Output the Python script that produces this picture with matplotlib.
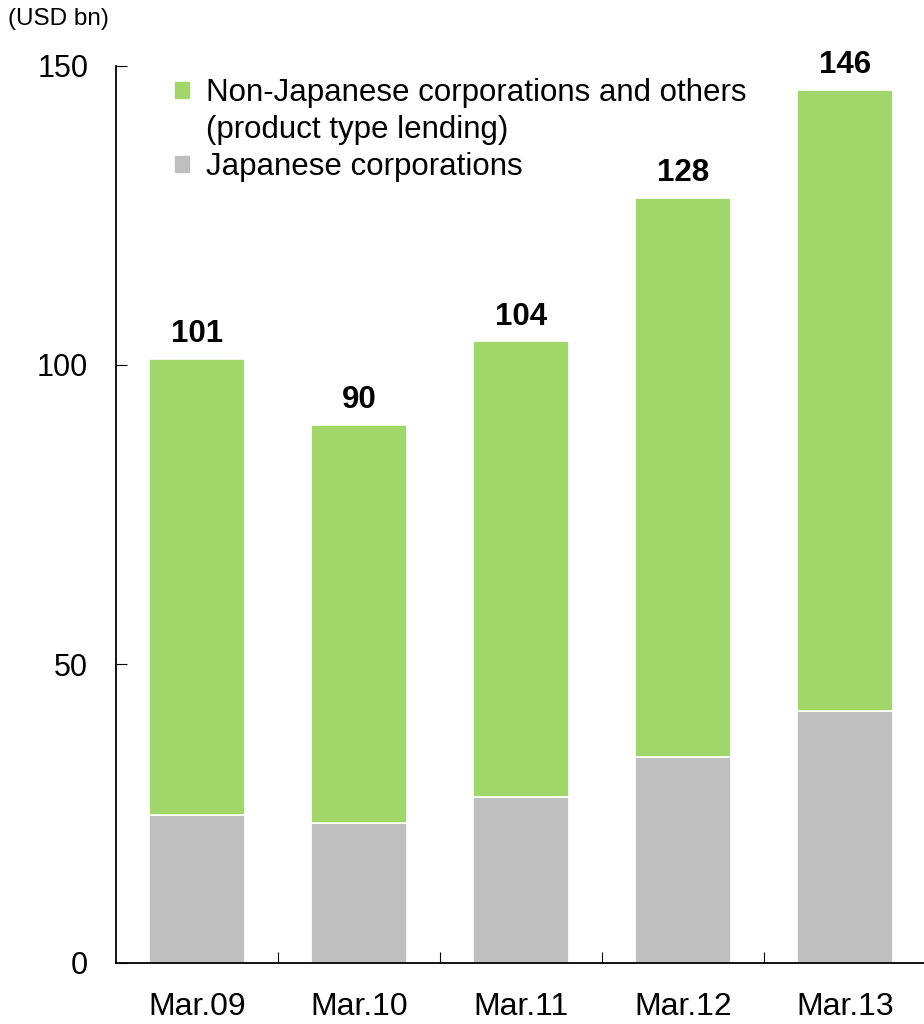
import matplotlib.pyplot as plt
from matplotlib.patches import Patch

plt.rcParams['font.family'] = ['Liberation Sans', 'DejaVu Sans']

# data (USD bn)
categories = ['Mar.09', 'Mar.10', 'Mar.11', 'Mar.12', 'Mar.13']
japanese = [24.7, 23.4, 27.8, 34.4, 42.1]
totals = [101, 90, 104, 128, 146]
non_japanese = [t - j for t, j in zip(totals, japanese)]

green = '#a0d66a'
gray = '#bfbfbf'

fig = plt.figure(figsize=(9.24, 10.24), dpi=100)
ax = fig.add_axes([116 / 924, 1 - 963 / 1024, 810 / 924, 897 / 1024])

x = range(len(categories))
ax.bar(x, japanese, width=0.59, color=gray, edgecolor='white', linewidth=1.2)
ax.bar(x, non_japanese, bottom=japanese, width=0.59, color=green,
       edgecolor='white', linewidth=1.2)

for i, t in enumerate(totals):
    ax.text(i, t + 1.6, str(t), ha='center', va='bottom', fontsize=22.5,
            fontweight='bold')

ax.set_xlim(-0.5, len(categories) - 0.5)
ax.set_ylim(0, 150)
ax.set_yticks([0, 50, 100, 150])
ax.tick_params(axis='y', direction='in', length=8, labelsize=22, pad=20)
ax.set_xticks([i + 0.5 for i in range(len(categories))])
ax.set_xticklabels([])
ax.set_xticks(list(x), minor=True)
ax.set_xticklabels(categories, minor=True)
ax.tick_params(axis='x', which='major', direction='in', length=8)
ax.tick_params(axis='x', which='minor', length=0, labelsize=23, pad=21)
for s in ['top', 'right']:
    ax.spines[s].set_visible(False)
ax.spines['left'].set_linewidth(1.3)
ax.spines['bottom'].set_linewidth(1.3)

fig.text(8 / 924, 1 - 19 / 1024, '(USD bn)', fontsize=17.5, va='center')

# legend: the second line of the green label carries an empty handle
handles = [Patch(color=green), Patch(visible=False), Patch(color=gray)]
labels = ['Non-Japanese corporations and others', '(product type lending)',
          'Japanese corporations']
ax.legend(handles, labels, loc='upper left', bbox_to_anchor=(0.058, 1.0),
          frameon=False, fontsize=22.5, handlelength=0.42, handleheight=0.42,
          handletextpad=0.55, labelspacing=0.22, borderaxespad=0)

fig.savefig('out.png', dpi=100)
